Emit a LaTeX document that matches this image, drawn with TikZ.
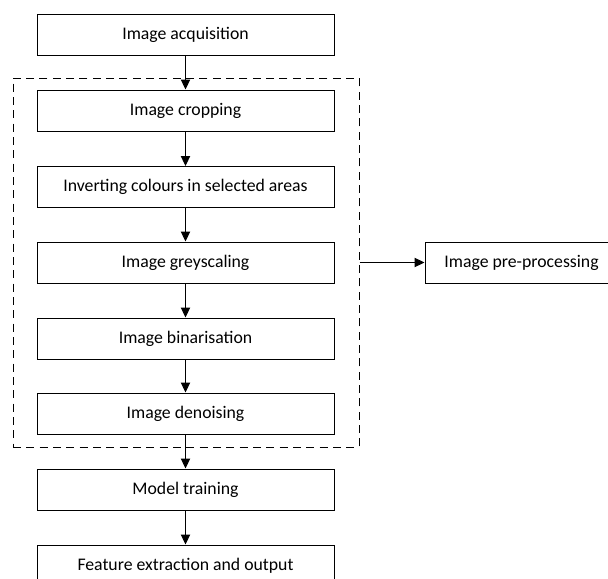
\documentclass[tikz,border=0pt]{standalone}
\usepackage{fontspec}
\setmainfont{Carlito}
\usetikzlibrary{arrows.meta}
\begin{document}
\begin{tikzpicture}[x=0.75pt,y=-0.75pt,
		stagebox/.style={draw,line width=0.75pt,minimum width=222.75pt,minimum height=30.75pt,inner sep=0pt,font=\fontsize{13.3}{15}\selectfont},
		flow/.style={-{Triangle[length=7.5pt,width=7pt]},line width=0.75pt}]
	\path[use as bounding box,clip] (0,0) rectangle (608,579);
	
	\node[draw,dashed,dash pattern=on 6pt off 4pt,line width=0.75pt,minimum width=259.5pt,minimum height=276.75pt,inner sep=0pt] (prep) at (186,262.5) {};
	
	\node[stagebox] (acq) at (185.5,35) {Image acquisition};
	\node[stagebox] (crop) at (185.5,110.5) {Image cropping};
	\node[stagebox] (inv) at (185.5,187) {Inverting colours in selected areas};
	\node[stagebox] (grey) at (185.5,262.5) {Image greyscaling};
	\node[stagebox] (bin) at (185.5,338.5) {Image binarisation};
	\node[stagebox] (den) at (185.5,413.5) {Image denoising};
	\node[stagebox] (train) at (185.5,489.5) {Model training};
	\node[stagebox] (feat) at (185.5,565.5) {Feature extraction and output};
	
	\node[stagebox,minimum width=144.75pt] (pre) at (521.5,262.5) {Image pre-processing};
	
	\draw[flow] (acq) -- (crop);
	\draw[flow] (crop) -- (inv);
	\draw[flow] (inv) -- (grey);
	\draw[flow] (grey) -- (bin);
	\draw[flow] (bin) -- (den);
	\draw[flow] (den) -- (train);
	\draw[flow] (train) -- (feat);
	\draw[flow] (prep.east) -- (pre.west);
\end{tikzpicture}
\end{document}
